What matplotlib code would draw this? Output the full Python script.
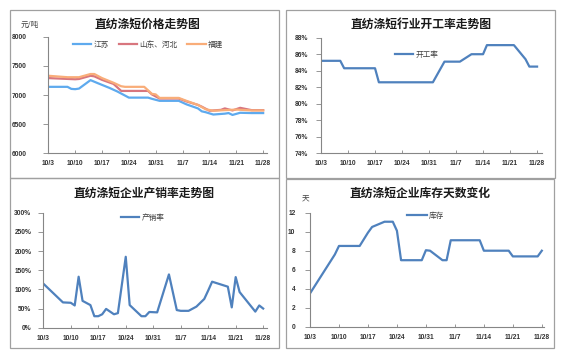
import pandas as pd
import matplotlib
matplotlib.use('Agg')
import matplotlib.pyplot as plt
import matplotlib.dates as mdates
from matplotlib.patches import Rectangle

plt.rcParams['font.family'] = ['Noto Sans CJK SC', 'DejaVu Sans']

YEAR = '2018/'
tick_labels = ['10/3', '10/10', '10/17', '10/24', '10/31', '11/7', '11/14', '11/21', '11/28']

# 价格 (元/吨)
js_dates = ['10/3', '10/8', '10/9', '10/10', '10/11', '10/14', '10/16', '10/19', '10/21', '10/24',
            '10/29', '10/30', '11/1', '11/6', '11/8', '11/11', '11/12', '11/13', '11/15', '11/18',
            '11/19', '11/20', '11/22', '11/25', '11/28']
js_price = [7140, 7140, 7105, 7100, 7110, 7255, 7200, 7120, 7060, 6955,
            6955, 6935, 6900, 6900, 6840, 6770, 6720, 6705, 6665, 6680,
            6690, 6658, 6695, 6690, 6690]
sd_dates = ['10/3', '10/10', '10/11', '10/14', '10/15', '10/17', '10/20', '10/22', '10/29', '10/30',
            '11/1', '11/6', '11/8', '11/11', '11/12', '11/14', '11/17', '11/18', '11/20', '11/22',
            '11/25', '11/28']
sd_price = [7290, 7270, 7275, 7330, 7320, 7260, 7190, 7070, 7070, 7010,
            6940, 6940, 6890, 6830, 6800, 6730, 6745, 6770, 6735, 6780,
            6740, 6740]
fj_dates = ['10/3', '10/8', '10/11', '10/14', '10/15', '10/17', '10/20', '10/22', '10/23', '10/28',
            '10/30', '10/31', '11/1', '11/6', '11/8', '11/11', '11/13', '11/15', '11/18', '11/21',
            '11/25', '11/28']
fj_price = [7330, 7305, 7305, 7360, 7360, 7290, 7210, 7150, 7140, 7140,
            7020, 7010, 6950, 6950, 6900, 6830, 6755, 6730, 6740, 6750,
            6735, 6735]

# 开工率 (%)
kg_dates = ['10/3', '10/8', '10/9', '10/17', '10/18', '11/1', '11/4', '11/8', '11/11', '11/14',
            '11/15', '11/22', '11/25', '11/26', '11/28']
kg_rate = [85.2, 85.2, 84.3, 84.3, 82.6, 82.6, 85.1, 85.1, 86.0, 86.0,
           87.1, 87.1, 85.4, 84.5, 84.5]

# 产销率 (%)
cx_dates = ['10/3', '10/8', '10/10', '10/11', '10/12', '10/13', '10/15', '10/16', '10/17', '10/18',
            '10/19', '10/21', '10/22', '10/24', '10/25', '10/28', '10/29', '10/30', '11/1', '11/4',
            '11/6', '11/7', '11/9', '11/11', '11/13', '11/14', '11/15', '11/19', '11/20', '11/21',
            '11/22', '11/26', '11/27', '11/28']
cx_rate = [115, 66, 65, 58, 133, 70, 59, 30, 30, 35,
           49, 35, 38, 185, 59, 30, 30, 41, 40, 139,
           46, 44, 44, 55, 75, 97, 120, 107, 53, 132,
           93, 42, 58, 50]

# 库存天数
kc_dates = ['10/3', '10/9', '10/10', '10/15', '10/16', '10/17', '10/18', '10/21', '10/23', '10/24',
            '10/25', '10/30', '10/31', '11/1', '11/4', '11/5', '11/6', '11/13', '11/14', '11/20',
            '11/21', '11/27', '11/28']
kc_days = [3.5, 7.6, 8.5, 8.5, 9.2, 9.9, 10.5, 11.05, 11.05, 10.1,
           7.0, 7.0, 8.05, 8.0, 7.0, 7.0, 9.1, 9.1, 8.0, 8.0,
           7.4, 7.4, 8.0]


def to_dt(lst):
    return pd.to_datetime([YEAR + d for d in lst], format='%Y/%m/%d')


W, H = 570, 355
fig = plt.figure(figsize=(W / 100, H / 100), dpi=100)
fig.patch.set_facecolor('white')


def rect(l, t, r, b):
    return [l / W, 1 - b / H, (r - l) / W, (b - t) / H]


# panel borders
for l, t, r, b in [(9.5, 9.5, 279, 178), (285.5, 9.5, 555, 177.5),
                   (9.5, 178, 279, 347.5), (285.5, 179, 554, 347.5)]:
    fig.add_artist(Rectangle((l / W, 1 - b / H), (r - l) / W, (b - t) / H,
                             transform=fig.transFigure, fill=False,
                             edgecolor='#A0A0A0', lw=0.9))

ticks = to_dt(tick_labels)
num_font = {'family': 'Liberation Sans', 'weight': 'bold', 'size': 4.8}
axis_col = '#868686'
txt_col = '#333333'


def style(ax, ylim, yticks, ylabels, xend, ypad):
    ax.set_xlim(ticks[0], ticks[-1] + pd.Timedelta(days=xend))
    ax.set_ylim(*ylim)
    ax.set_xticks(ticks)
    ax.set_xticklabels(tick_labels, fontdict=num_font, color=txt_col)
    ax.set_yticks(yticks)
    ax.set_yticklabels(ylabels, fontdict=num_font, color=txt_col)
    for s in ['top', 'right']:
        ax.spines[s].set_visible(False)
    for s in ['left', 'bottom']:
        ax.spines[s].set_color(axis_col)
        ax.spines[s].set_linewidth(0.8)
    ax.tick_params(axis='x', direction='in', length=2.5, width=0.6, color=axis_col, pad=5)
    ax.tick_params(axis='y', direction='out', length=3.5, width=0.6, color=axis_col, pad=ypad)
    ax.patch.set_alpha(0)


def legend(ax, x, y, ncol=1, hl=2.4):
    leg = ax.legend(loc='center left', bbox_to_anchor=(x / W, 1 - y / H),
                    bbox_transform=fig.transFigure, frameon=False, ncol=ncol,
                    fontsize=5.5, handlelength=hl, handletextpad=0.3,
                    columnspacing=1.3, borderpad=0, borderaxespad=0)
    for t in leg.get_texts():
        t.set_color('#404040')


# 1. 价格走势
ax1 = fig.add_axes(rect(48.3, 36.7, 267, 153.3))
ax1.plot(to_dt(js_dates), js_price, color='#5EAAEE', lw=1.6, label='江苏')
ax1.plot(to_dt(sd_dates), sd_price, color='#D8767E', lw=1.6, label='山东、河北')
ax1.plot(to_dt(fj_dates), fj_price, color='#F9AD79', lw=1.6, label='福建')
style(ax1, (6000, 8000), range(6000, 8001, 500), [str(v) for v in range(6000, 8001, 500)], 1, 12)
legend(ax1, 73, 45, ncol=3)
fig.text(147 / W, 1 - 24 / H, '直纺涤短价格走势图', ha='center', va='center',
         fontsize=8.5, fontweight='bold', color='#1a1a1a')
fig.text(21 / W, 1 - 24.5 / H, '元/吨', ha='left', va='center', fontsize=5.5, color='#404040')

# 2. 开工率
ax2 = fig.add_axes(rect(321, 37.7, 541.7, 153.3))
ax2.plot(to_dt(kg_dates), kg_rate, color='#4F81BD', lw=1.6, label='开工率')
style(ax2, (74, 88), range(74, 89, 2), ['%d%%' % v for v in range(74, 89, 2)], 1.2, 6)
legend(ax2, 395, 55)
fig.text(421 / W, 1 - 24 / H, '直纺涤短行业开工率走势图', ha='center', va='center',
         fontsize=8.5, fontweight='bold', color='#1a1a1a')

# 3. 产销率
ax3 = fig.add_axes(rect(43.3, 212.7, 266.7, 327.7))
ax3.plot(to_dt(cx_dates), cx_rate, color='#4F81BD', lw=1.6, label='产销率')
style(ax3, (0, 300), range(0, 301, 50), ['%d%%' % v for v in range(0, 301, 50)], 0.9, 5)
legend(ax3, 120.7, 217.7)
fig.text(144 / W, 1 - 193 / H, '直纺涤短企业产销率走势图', ha='center', va='center',
         fontsize=8.5, fontweight='bold', color='#1a1a1a')

# 4. 库存天数
ax4 = fig.add_axes(rect(310, 212.7, 544.3, 326.7))
ax4.plot(to_dt(kc_dates), kc_days, color='#4F81BD', lw=1.6, label='库存')
style(ax4, (0, 12), range(0, 13, 2), [str(v) for v in range(0, 13, 2)], 0.6, 7)
legend(ax4, 406.7, 215.7, hl=2.6)
fig.text(420 / W, 1 - 193 / H, '直纺涤短企业库存天数变化', ha='center', va='center',
         fontsize=8.5, fontweight='bold', color='#1a1a1a')
fig.text(305.5 / W, 1 - 200 / H, '天', ha='center', va='center', fontsize=5.5, color='#404040')

fig.savefig('out.png', dpi=100, facecolor='white')
